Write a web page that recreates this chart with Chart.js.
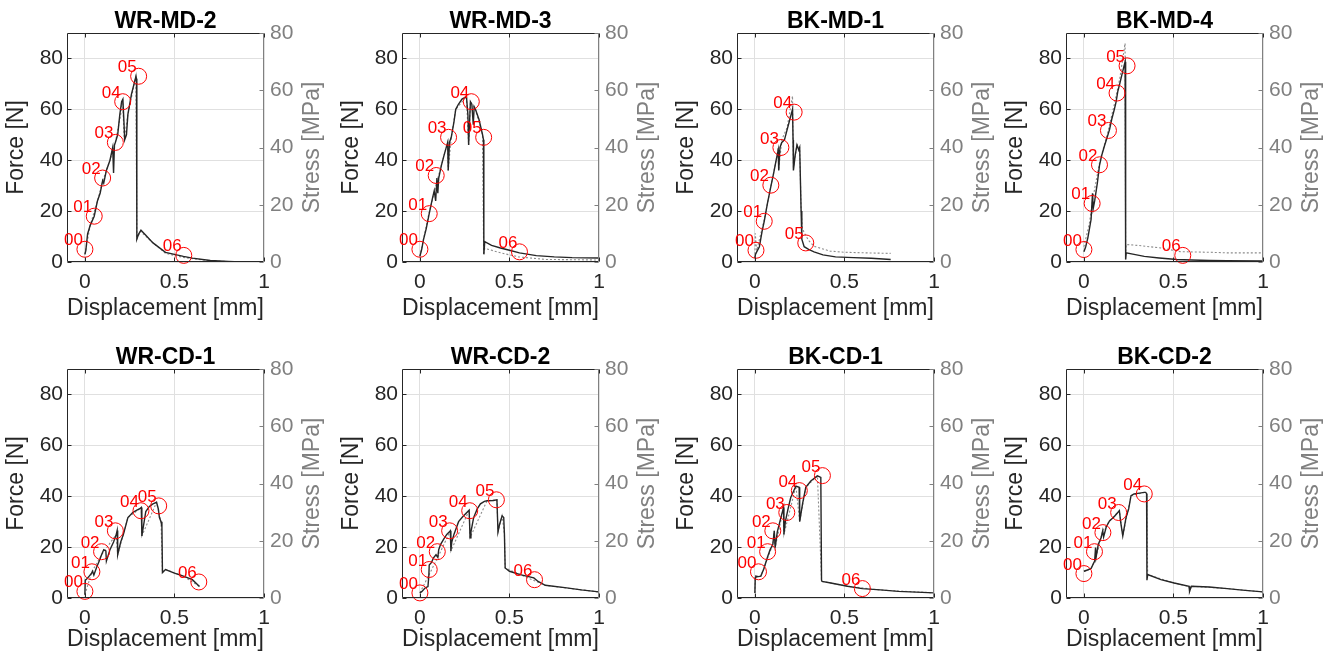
<!DOCTYPE html>
<html>
<head>
<meta charset="utf-8">
<script src="https://cdn.jsdelivr.net/npm/chart.js@4.4.1/dist/chart.umd.min.js"></script>
<style>
    html, body { margin: 0; padding: 0; background: #fff; overflow: hidden; }
    #fig { position: relative; width: 1333px; height: 656px; }
    #fig canvas { position: absolute; }
</style>
</head>
<body>
<div id="fig"></div>
<script>

// ---- data ----
var titles = ['WR-MD-2', 'WR-MD-3', 'BK-MD-1', 'BK-MD-4', 'WR-CD-1', 'WR-CD-2', 'BK-CD-1', 'BK-CD-2'];
var markLabels = ['00', '01', '02', '03', '04', '05', '06'];
var xTicks = [0, 0.5, 1];
var xTickLabels = ['0', '0.5', '1'];
var forceTicks = [0, 20, 40, 60, 80];
var stressTicks = [0, 20, 40, 60, 80];

// WR-MD-2
var dispWRMD2 = [0, 0.005, 0.015, 0.03, 0.052, 0.07, 0.085, 0.099, 0.105, 0.12, 0.14, 0.155, 0.16, 0.165, 0.17, 0.183, 0.195, 0.205, 0.212, 0.218, 0.222, 0.232, 0.24, 0.26, 0.285, 0.288, 0.29, 0.3, 0.313, 0.34, 0.38, 0.45, 0.5, 0.55, 0.6, 0.7, 0.8, 0.87];
var forceWRMD2 = [3, 4.5, 11, 14.5, 18, 24, 27, 32, 31, 36, 40, 45, 35, 46, 47, 50, 58, 63, 64, 55, 48, 50, 58, 66, 73, 72, 9, 11, 12.5, 10.5, 7.5, 3.8, 3, 2.2, 1.5, 0.6, 0.2, 0];
var sDispWRMD2 = [0, 0.03, 0.07, 0.1, 0.14, 0.17, 0.2, 0.21, 0.22, 0.24, 0.285, 0.29, 0.31, 0.35, 0.45, 0.55, 0.7, 0.87];
var stressWRMD2 = [2.7, 12.9, 21.3, 28.4, 35.6, 41.8, 51.6, 56.9, 42.7, 51.6, 64.9, 8, 10.7, 8.4, 3, 1.6, 0.4, 0];
var markDispWRMD2 = [0, 0.052, 0.099, 0.17, 0.211, 0.3, 0.552];
var markForceWRMD2 = [5, 18, 33, 47, 63, 73, 2.6];

// WR-MD-3
var dispWRMD3 = [0, 0.01, 0.02, 0.035, 0.052, 0.07, 0.08, 0.088, 0.095, 0.1, 0.105, 0.12, 0.135, 0.155, 0.158, 0.165, 0.175, 0.19, 0.2, 0.215, 0.235, 0.26, 0.268, 0.272, 0.282, 0.29, 0.298, 0.303, 0.31, 0.33, 0.35, 0.355, 0.357, 0.362, 0.4, 0.45, 0.5, 0.556, 0.65, 0.75, 0.85, 1.0];
var forceWRMD3 = [2.2, 5, 8.8, 13, 19, 25, 28, 24, 33, 27, 33, 38, 42, 47, 36, 47, 49, 55, 60, 62, 64, 65, 58, 46, 63, 62, 54, 61, 60, 56, 50, 48, 3, 8, 6.5, 5.5, 4.6, 3.6, 2.5, 2, 1.7, 1.6];
var sDispWRMD3 = [0, 0.05, 0.1, 0.155, 0.158, 0.175, 0.2, 0.26, 0.272, 0.282, 0.31, 0.35, 0.356, 0.362, 0.45, 0.55, 0.7, 1.0];
var stressWRMD3 = [2, 16.9, 29.3, 41.8, 32, 43.6, 53.3, 57.8, 40.9, 56, 53.3, 44.4, 2.5, 4.8, 3.2, 1.8, 0.9, 0.7];
var markDispWRMD3 = [0, 0.052, 0.091, 0.16, 0.287, 0.356, 0.556];
var markForceWRMD3 = [5, 19, 34, 49, 63, 49, 4];

// BK-MD-1
var dispBKMD1 = [0, 0.003, 0.01, 0.025, 0.04, 0.052, 0.07, 0.09, 0.105, 0.12, 0.13, 0.133, 0.14, 0.15, 0.165, 0.18, 0.195, 0.21, 0.213, 0.215, 0.225, 0.235, 0.245, 0.25, 0.258, 0.262, 0.275, 0.3, 0.33, 0.38, 0.45, 0.55, 0.65, 0.758];
var forceBKMD1 = [1.5, 3, 4, 6, 12, 16, 23, 30, 35, 40.5, 44, 36, 45, 47, 48, 52, 56, 60, 48, 36, 42, 46, 44, 45, 20, 9, 6, 5, 4, 2.8, 2, 1.7, 1.5, 1];
var sDispBKMD1 = [0, 0.002, 0.01, 0.05, 0.09, 0.12, 0.13, 0.133, 0.15, 0.18, 0.21, 0.215, 0.235, 0.25, 0.258, 0.265, 0.275, 0.3, 0.33, 0.42, 0.5, 0.61, 0.758];
var stressBKMD1 = [1.3, 10, 4, 14.2, 26.7, 36, 40, 32, 42.7, 47, 58, 33, 41, 40, 18, 12, 10.2, 7.5, 5.5, 3.8, 3.4, 3.2, 3];
var markDispBKMD1 = [0.006, 0.052, 0.089, 0.145, 0.219, 0.284];
var markForceBKMD1 = [4.6, 16, 30.2, 45, 58.9, 7.5];

// BK-MD-4
var dispBKMD4 = [0, 0.01, 0.022, 0.04, 0.048, 0.052, 0.06, 0.075, 0.087, 0.1, 0.115, 0.13, 0.143, 0.155, 0.17, 0.18, 0.189, 0.2, 0.217, 0.23, 0.233, 0.236, 0.28, 0.337, 0.42, 0.52, 0.6, 0.7, 0.8, 1.0];
var forceBKMD4 = [4, 6, 9.5, 16.7, 27, 21, 24, 31, 38, 42, 45.7, 49, 52, 56, 60, 63, 67, 70, 75, 78.7, 1, 3.6, 3, 2.2, 1.6, 1, 0.8, 0.6, 0.5, 0.4];
var sDispBKMD4 = [0, 0.01, 0.03, 0.05, 0.09, 0.13, 0.17, 0.2, 0.23, 0.233, 0.236, 0.3, 0.43, 0.54, 0.7, 0.8, 1.0];
var stressBKMD4 = [5.3, 8, 13.3, 22.2, 35.6, 44.4, 55.1, 64, 76.4, 0.9, 6.1, 5.8, 4.9, 3.6, 3.4, 3.2, 3.2];
var markDispBKMD4 = [0, 0.046, 0.087, 0.137, 0.185, 0.241, 0.552];
var markForceBKMD4 = [4.9, 23, 38.2, 51.7, 66.4, 77.1, 2.6];

// WR-CD-1
var dispWRCD1 = [0, 0.002, 0.01, 0.024, 0.035, 0.043, 0.05, 0.065, 0.08, 0.093, 0.105, 0.117, 0.12, 0.14, 0.16, 0.175, 0.18, 0.183, 0.2, 0.215, 0.24, 0.267, 0.29, 0.304, 0.315, 0.318, 0.34, 0.36, 0.38, 0.4, 0.41, 0.416, 0.425, 0.43, 0.433, 0.45, 0.5, 0.55, 0.6, 0.64];
var forceWRCD1 = [1.3, 7, 7.5, 8.6, 9.5, 10.5, 9, 12, 14.5, 17, 19, 18.5, 14.5, 19, 22, 25, 26.5, 17, 22, 25, 31.6, 33.6, 34.5, 35, 35.6, 24.4, 34, 36, 37, 37.6, 35, 31.6, 30, 28, 10, 11.2, 9.8, 8.6, 7.2, 4.5];
var sDispWRCD1 = [0, 0.04, 0.093, 0.175, 0.183, 0.24, 0.315, 0.318, 0.4, 0.425, 0.433, 0.45, 0.55, 0.64];
var stressWRCD1 = [1.2, 9.3, 15.1, 22.2, 15.1, 28.1, 31.6, 21.7, 33.4, 26.7, 8.9, 10, 7.6, 4];
var markDispWRCD1 = [0, 0.039, 0.093, 0.17, 0.313, 0.412, 0.636];
var markForceWRCD1 = [2.6, 10.3, 18.2, 26.4, 34.3, 36.2, 6.3];

// WR-CD-2
var dispWRCD2 = [0, 0.01, 0.03, 0.045, 0.05, 0.052, 0.065, 0.076, 0.09, 0.1, 0.105, 0.115, 0.132, 0.15, 0.17, 0.173, 0.178, 0.19, 0.216, 0.24, 0.275, 0.28, 0.285, 0.3, 0.32, 0.338, 0.36, 0.375, 0.41, 0.43, 0.436, 0.445, 0.459, 0.468, 0.472, 0.476, 0.5, 0.56, 0.636, 0.66, 0.7, 0.82, 0.9, 1.0];
var forceWRCD2 = [2, 2.5, 4, 4.5, 9, 13, 14, 15.8, 17, 16, 19, 21, 23, 25, 26.4, 18.5, 22, 25, 30, 32, 34.5, 23.7, 26, 31.6, 35, 37, 38, 38.2, 38.3, 38.6, 26, 29, 32.3, 31.6, 25, 11.8, 10.5, 9.2, 7.9, 6.5, 5, 4, 3.2, 2.4];
var sDispWRCD2 = [0, 0.05, 0.1, 0.17, 0.173, 0.275, 0.28, 0.375, 0.43, 0.436, 0.459, 0.472, 0.476, 0.56, 0.7, 1.0];
var stressWRCD2 = [1.8, 8, 14.2, 23.5, 16.4, 30.7, 21.1, 34, 34.3, 23.1, 28.7, 22.2, 10.5, 8.2, 4.4, 2.1];
var markDispWRCD2 = [0, 0.052, 0.097, 0.166, 0.278, 0.427, 0.64];
var markForceWRCD2 = [2, 11.2, 18.2, 26.4, 34.3, 38.6, 7.2];

// BK-CD-1
var dispBKCD1 = [0, 0.002, 0.005, 0.02, 0.033, 0.05, 0.07, 0.085, 0.1, 0.108, 0.113, 0.125, 0.145, 0.16, 0.162, 0.17, 0.185, 0.2, 0.229, 0.247, 0.25, 0.266, 0.284, 0.312, 0.349, 0.368, 0.372, 0.375, 0.424, 0.517, 0.6, 0.7, 0.8, 1.0];
var forceBKCD1 = [2, 8, 8.6, 8.4, 8.6, 11.5, 16, 19, 21, 26.4, 19.8, 26, 31.6, 35.6, 25, 30, 35, 39.5, 44, 43.5, 30, 37, 43.5, 46, 48, 47.4, 7, 6.5, 5.9, 4.6, 3.7, 3.2, 2.6, 2];
var sDispBKCD1 = [0, 0.002, 0.033, 0.1, 0.108, 0.113, 0.16, 0.162, 0.229, 0.25, 0.284, 0.349, 0.372, 0.375, 0.517, 0.7, 1.0];
var stressBKCD1 = [1.8, 7.1, 7.6, 18.7, 23.5, 17.6, 31.6, 22.2, 39.1, 26.7, 38.7, 42.7, 6.2, 5.8, 4.1, 2.8, 1.8];
var markDispBKCD1 = [0.02, 0.071, 0.1, 0.178, 0.248, 0.377, 0.6];
var markForceBKCD1 = [10.3, 18.2, 26.4, 33.6, 42.2, 48.1, 3.7];

// BK-CD-2
var dispBKCD2 = [0, 0.02, 0.04, 0.06, 0.065, 0.068, 0.08, 0.096, 0.105, 0.11, 0.125, 0.143, 0.17, 0.198, 0.205, 0.217, 0.235, 0.25, 0.263, 0.28, 0.31, 0.337, 0.345, 0.35, 0.352, 0.356, 0.43, 0.504, 0.587, 0.59, 0.6, 0.7, 0.8, 0.9, 1.0];
var forceBKCD2 = [10.5, 11, 11.6, 14.5, 19.8, 16, 21, 23.7, 26.4, 24, 28, 30.3, 32, 34.3, 30, 24.4, 31.6, 35, 40.2, 40.9, 41.2, 41.5, 41.5, 41, 7, 9.2, 7.2, 5.9, 4.6, 2.6, 4.6, 4.3, 3.7, 3, 2.4];
var sDispBKCD2 = [0, 0.04, 0.068, 0.105, 0.143, 0.198, 0.217, 0.263, 0.337, 0.35, 0.356, 0.504, 0.587, 0.59, 0.6, 0.8, 1.0];
var stressBKCD2 = [9.3, 10.3, 14.2, 23.5, 26.9, 30.5, 21.7, 35.7, 36.9, 36.4, 8.2, 5.2, 4.1, 2.3, 4.1, 3.3, 2.1];
var markDispBKCD2 = [0, 0.059, 0.106, 0.194, 0.337];
var markForceBKCD2 = [9.6, 18.2, 25.7, 33.6, 40.9];

// ---- look ----
var FONT = "'Liberation Sans', Arial, Helvetica, sans-serif";
var AXIS_COLOR = '#262626';
var STRESS_COLOR = '#808080';
var GRID_COLOR = '#e0e0e0';
var MARK_COLOR = '#ff0000';

var colLefts = [0, 335, 670, 999];
var rowTops = [0, 336];
var xTitlePad = [6, 11];   // bottom row sits a bit tighter in the original
var CANVAS_W = 333, CANVAS_H = 328;

Chart.defaults.font.family = FONT;

var panels = [
    { disp: dispWRMD2, force: forceWRMD2, sDisp: sDispWRMD2, stress: stressWRMD2, mDisp: markDispWRMD2, mForce: markForceWRMD2 },
    { disp: dispWRMD3, force: forceWRMD3, sDisp: sDispWRMD3, stress: stressWRMD3, mDisp: markDispWRMD3, mForce: markForceWRMD3 },
    { disp: dispBKMD1, force: forceBKMD1, sDisp: sDispBKMD1, stress: stressBKMD1, mDisp: markDispBKMD1, mForce: markForceBKMD1 },
    { disp: dispBKMD4, force: forceBKMD4, sDisp: sDispBKMD4, stress: stressBKMD4, mDisp: markDispBKMD4, mForce: markForceBKMD4 },
    { disp: dispWRCD1, force: forceWRCD1, sDisp: sDispWRCD1, stress: stressWRCD1, mDisp: markDispWRCD1, mForce: markForceWRCD1 },
    { disp: dispWRCD2, force: forceWRCD2, sDisp: sDispWRCD2, stress: stressWRCD2, mDisp: markDispWRCD2, mForce: markForceWRCD2 },
    { disp: dispBKCD1, force: forceBKCD1, sDisp: sDispBKCD1, stress: stressBKCD1, mDisp: markDispBKCD1, mForce: markForceBKCD1 },
    { disp: dispBKCD2, force: forceBKCD2, sDisp: sDispBKCD2, stress: stressBKCD2, mDisp: markDispBKCD2, mForce: markForceBKCD2 }
];

function toPoints(xs, ys) {
    var out = [], i;
    for (i = 0; i < xs.length; i++) {
        out.push({ x: xs[i], y: ys[i] });
    }
    return out;
}

function fixTicks(values) {
    return function (scale) {
        scale.ticks = values.map(function (v) { return { value: v }; });
    };
}

/**
 * box, inward tick marks, panel title, right-hand label and marker numbers
 */
var decor = {
    id: 'decor',
    afterDraw: function (chart, args, opts) {
        var ctx = chart.ctx, a = chart.chartArea,
            sx = chart.scales.x, sy = chart.scales.y, s2 = chart.scales.y2,
            L = Math.round(a.left) + 0.5, R = Math.round(a.right) - 0.5,
            T = Math.round(a.top) + 0.5, B = Math.round(a.bottom) - 0.5,
            tl = 4, meta, i, p, v;

        ctx.save();
        ctx.lineWidth = 1;

        // left, bottom, top in dark, right in grey
        ctx.strokeStyle = AXIS_COLOR;
        ctx.beginPath();
        ctx.moveTo(R, T); ctx.lineTo(L, T); ctx.lineTo(L, B); ctx.lineTo(R, B);
        xTicks.forEach(function (t) {
            p = Math.round(sx.getPixelForValue(t)) + 0.5;
            ctx.moveTo(p, B); ctx.lineTo(p, B - tl);
            ctx.moveTo(p, T); ctx.lineTo(p, T + tl);
        });
        forceTicks.forEach(function (t) {
            p = Math.round(sy.getPixelForValue(t)) + 0.5;
            ctx.moveTo(L, p); ctx.lineTo(L + tl, p);
        });
        ctx.stroke();

        ctx.strokeStyle = STRESS_COLOR;
        ctx.beginPath();
        ctx.moveTo(R, T); ctx.lineTo(R, B);
        stressTicks.forEach(function (t) {
            p = Math.round(s2.getPixelForValue(t)) + 0.5;
            ctx.moveTo(R, p); ctx.lineTo(R - tl, p);
        });
        ctx.stroke();

        // panel title
        ctx.fillStyle = '#000';
        ctx.font = 'bold 23px ' + FONT;
        ctx.textAlign = 'center';
        ctx.textBaseline = 'alphabetic';
        ctx.fillText(opts.title, (a.left + a.right) / 2, 28);

        // right axis label, read bottom to top like the left one
        ctx.save();
        ctx.translate(a.right + 49, (a.top + a.bottom) / 2);
        ctx.rotate(-Math.PI / 2);
        ctx.fillStyle = STRESS_COLOR;
        ctx.font = '23px ' + FONT;
        ctx.textBaseline = 'middle';
        ctx.fillText('Stress [MPa]', 0, 0);
        ctx.restore();

        // marker numbers
        meta = chart.getDatasetMeta(0);
        ctx.fillStyle = MARK_COLOR;
        ctx.font = '17px ' + FONT;
        ctx.textAlign = 'right';
        ctx.textBaseline = 'alphabetic';
        for (i = 0; i < meta.data.length; i++) {
            v = meta.data[i];
            ctx.fillText(markLabels[i], v.x - 2, v.y - 4);
        }

        ctx.restore();
    }
};

function buildPanel(idx) {
    var panel = panels[idx],
        row = Math.floor(idx / 4),
        canvas = document.createElement('canvas');

    canvas.width = CANVAS_W;
    canvas.height = CANVAS_H;
    canvas.style.left = colLefts[idx % 4] + 'px';
    canvas.style.top = rowTops[row] + 'px';
    document.getElementById('fig').appendChild(canvas);

    return new Chart(canvas, {
        type: 'line',
        data: {
            datasets: [{
                data: toPoints(panel.mDisp, panel.mForce),
                yAxisID: 'y',
                showLine: false,
                pointRadius: 8,
                pointStyle: 'circle',
                pointBorderColor: MARK_COLOR,
                pointBackgroundColor: 'rgba(0,0,0,0)',
                pointBorderWidth: 1,
                clip: false,
                order: 0
            }, {
                data: toPoints(panel.disp, panel.force),
                yAxisID: 'y',
                borderColor: '#262626',
                borderWidth: 1.4,
                pointRadius: 0,
                tension: 0,
                order: 1
            }, {
                data: toPoints(panel.sDisp, panel.stress),
                yAxisID: 'y2',
                borderColor: '#8c8c8c',
                borderWidth: 1.1,
                borderDash: [2, 2],
                pointRadius: 0,
                tension: 0,
                order: 2
            }]
        },
        options: {
            responsive: false,
            animation: false,
            events: [],
            layout: { padding: { top: 33, left: 0, right: 0, bottom: 0 } },
            plugins: {
                legend: { display: false },
                tooltip: { enabled: false },
                decor: { title: titles[idx] }
            },
            scales: {
                x: {
                    type: 'linear',
                    min: -0.1,
                    max: 1,
                    afterBuildTicks: fixTicks(xTicks),
                    afterFit: function (s) { s.height = 66; },
                    border: { display: false },
                    grid: { color: GRID_COLOR, drawTicks: false },
                    ticks: {
                        padding: 8,
                        color: AXIS_COLOR,
                        font: { size: 21 },
                        maxRotation: 0,
                        callback: function (v, i) { return xTickLabels[i]; }
                    },
                    title: {
                        display: true,
                        text: 'Displacement [mm]',
                        color: AXIS_COLOR,
                        font: { size: 23 },
                        padding: { top: 0, bottom: xTitlePad[row] }
                    }
                },
                y: {
                    position: 'left',
                    min: 0,
                    max: 90,
                    afterBuildTicks: fixTicks(forceTicks),
                    afterFit: function (s) { s.width = 67; },
                    border: { display: false },
                    grid: { color: GRID_COLOR, drawTicks: false },
                    ticks: { padding: 4, color: AXIS_COLOR, font: { size: 21 } },
                    title: {
                        display: true,
                        text: 'Force [N]',
                        color: AXIS_COLOR,
                        font: { size: 23 },
                        padding: { top: 3, bottom: 0 }
                    }
                },
                y2: {
                    position: 'right',
                    min: 0,
                    max: 80,
                    afterBuildTicks: fixTicks(stressTicks),
                    afterFit: function (s) { s.width = 69; },
                    border: { display: false },
                    grid: { display: false, drawTicks: false },
                    ticks: { padding: 6, color: STRESS_COLOR, font: { size: 21 } }
                }
            }
        },
        plugins: [decor]
    });
}

var charts = [], n;
for (n = 0; n < panels.length; n++) {
    charts.push(buildPanel(n));
}

</script>
</body>
</html>
